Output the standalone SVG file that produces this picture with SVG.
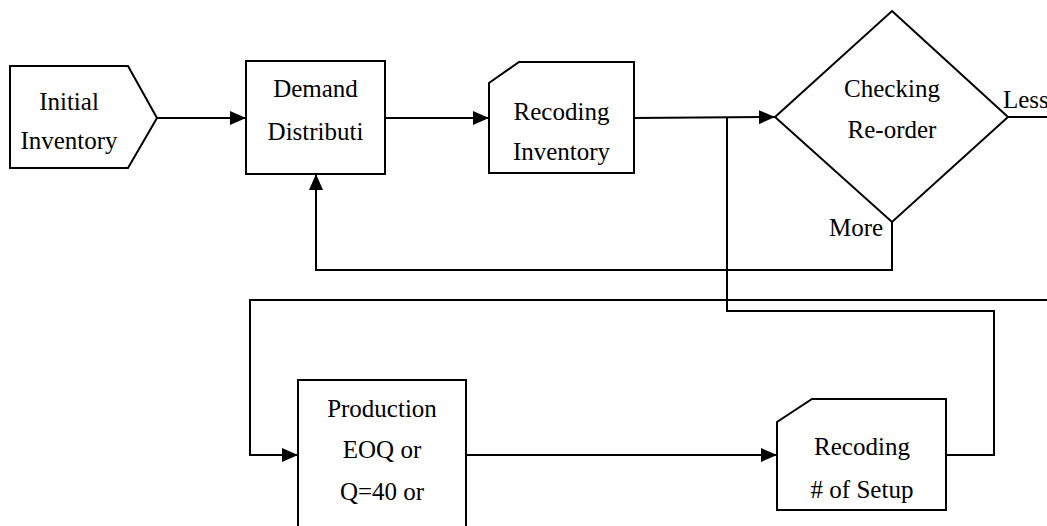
<svg xmlns="http://www.w3.org/2000/svg" width="1047" height="526" viewBox="0 0 1047 526">
  <style>
    .shape { fill: #ffffff; stroke: #000000; stroke-width: 2; stroke-linejoin: miter; }
    .wire { fill: none; stroke: #000000; stroke-width: 2; }
    text { font-family: "Liberation Serif", "Times New Roman", serif; font-size: 25px; fill: #000000; }
    .c { text-anchor: middle; }
  </style>
  <defs>
    <marker id="arrow" markerWidth="16" markerHeight="14" refX="16" refY="7" orient="auto" markerUnits="userSpaceOnUse">
      <path d="M0,0 L16,7 L0,14 Z" fill="#000000"/>
    </marker>
  </defs>

  <!-- connectors -->
  <g id="connectors">
    <line class="wire" x1="157" y1="118" x2="246" y2="118" marker-end="url(#arrow)"/>
    <line class="wire" x1="385" y1="118" x2="489" y2="118" marker-end="url(#arrow)"/>
    <line class="wire" x1="634" y1="118" x2="775" y2="117" marker-end="url(#arrow)"/>
    <!-- "More" loop back to demand -->
    <polyline class="wire" points="892,222 892,270 316,270 316,174" marker-end="url(#arrow)"/>
    <!-- "Less" branch to production -->
    <polyline class="wire" points="1008,117 1047,117"/>
    <polyline class="wire" points="1047,300 250,300 250,455 298,455" marker-end="url(#arrow)"/>
    <line class="wire" x1="466" y1="455" x2="777" y2="455" marker-end="url(#arrow)"/>
    <!-- setup record feeds back into the re-order check -->
    <polyline class="wire" points="946,455 994,455 994,311 727,311 727,118"/>
  </g>

  <g id="initial-inventory">
    <polygon class="shape" points="10,66 128,66 157,118 128,168 10,168"/>
    <text class="c" x="69" y="110">Initial</text>
    <text class="c" x="69" y="149">Inventory</text>
  </g>

  <g id="demand-distribution">
    <rect class="shape" x="246" y="61" width="139" height="113"/>
    <text class="c" x="315.5" y="97">Demand</text>
    <text class="c" x="315.5" y="140">Distributi</text>
  </g>

  <g id="recoding-inventory">
    <polygon class="shape" points="519,62 634,62 634,173 489,173 489,83"/>
    <text class="c" x="561.5" y="120">Recoding</text>
    <text class="c" x="561.5" y="160">Inventory</text>
  </g>

  <g id="checking-reorder">
    <polygon class="shape" points="892,11 1008,117 892,222 775,117"/>
    <text class="c" x="892" y="97">Checking</text>
    <text class="c" x="892" y="138">Re-order</text>
    <text x="1003" y="108">Less</text>
    <text x="829" y="236">More</text>
  </g>

  <g id="production">
    <rect class="shape" x="298" y="380" width="168" height="160"/>
    <text class="c" x="382" y="417">Production</text>
    <text class="c" x="382" y="458">EOQ or</text>
    <text class="c" x="382" y="500">Q=40 or</text>
  </g>

  <g id="recoding-setup">
    <polygon class="shape" points="812,399 946,399 946,510 777,510 777,422"/>
    <text class="c" x="862" y="455">Recoding</text>
    <text class="c" x="862" y="498"># of Setup</text>
  </g>
</svg>
